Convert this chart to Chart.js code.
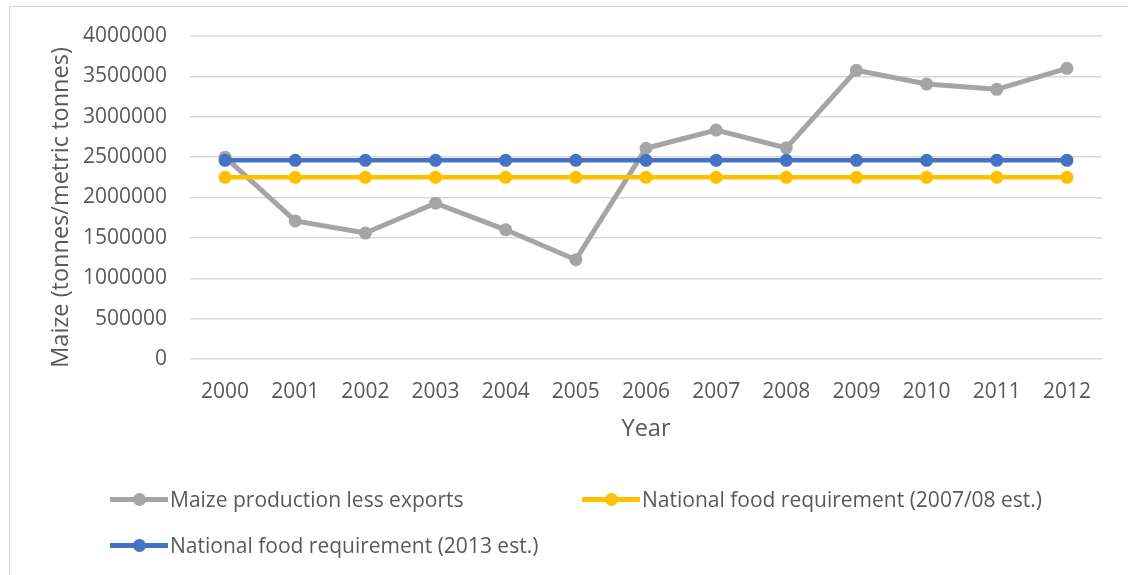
<!DOCTYPE html>
<html>
<head>
<meta charset="utf-8">
<script src="https://cdn.jsdelivr.net/npm/chart.js@4.4.1/dist/chart.umd.min.js"></script>
<style>
  html, body { margin:0; padding:0; background:#fff; }
  #wrap { position:relative; width:1128px; height:575px; overflow:hidden; font-family:"Open Sans", sans-serif; }
  #frame { position:absolute; left:9px; top:6px; width:1400px; height:800px; border:1px solid #d9d9d9; box-sizing:border-box; }
  canvas { position:absolute; left:0; top:0; }
  .lg { position:absolute; display:flex; align-items:center; color:#595959; font-size:21px; white-space:nowrap; }
  .sym { position:relative; width:58px; height:13px; margin-right:2px; }
  .sym .ln { position:absolute; left:0; right:0; top:4px; height:5px; }
  .sym .dt { position:absolute; left:23px; top:0; width:13px; height:13px; border-radius:50%; }
</style>
</head>
<body>
<div id="wrap">
  <div id="frame"></div>
  <canvas id="c" width="1128" height="575"></canvas>
  <div id="legend"></div>
</div>
<script>
const years = ['2000','2001','2002','2003','2004','2005','2006','2007','2008','2009','2010','2011','2012'];
const maizeLessExports = [2500000, 1710000, 1560000, 1930000, 1600000, 1230000, 2610000, 2835000, 2615000, 3575000, 3405000, 3340000, 3600000];
const foodReq2007 = [2250000, 2250000, 2250000, 2250000, 2250000, 2250000, 2250000, 2250000, 2250000, 2250000, 2250000, 2250000, 2250000];
const foodReq2013 = [2460000, 2460000, 2460000, 2460000, 2460000, 2460000, 2460000, 2460000, 2460000, 2460000, 2460000, 2460000, 2460000];
const seriesNames = ['Maize production less exports', 'National food requirement (2007/08 est.)', 'National food requirement (2013 est.)'];
const yTitle = 'Maize (tonnes/metric tonnes)';
const xTitle = 'Year';

const colors = ['#a5a5a5', '#ffc000', '#4472c4'];
const FONT = '"Open Sans", sans-serif';
const TXT = '#595959';

function ds(label, data, color, order, width) {
  return {
    label, data, borderColor: color, backgroundColor: color,
    pointBackgroundColor: color, pointBorderColor: color,
    borderWidth: width, pointRadius: 6.5, pointHoverRadius: 6.5, pointBorderWidth: 0,
    tension: 0, order
  };
}

// y-axis title drawn as canvas text (slightly below axis centre, as in the reference)
const yTitlePlugin = {
  id: 'yTitle',
  afterDraw(chart) {
    const ctx = chart.ctx;
    ctx.save();
    ctx.translate(61, chart.chartArea.top + (chart.chartArea.bottom - chart.chartArea.top) / 2 + 10);
    ctx.rotate(-Math.PI / 2);
    ctx.fillStyle = TXT;
    ctx.font = '23.5px ' + FONT;
    ctx.textAlign = 'center';
    ctx.textBaseline = 'middle';
    ctx.fillText(yTitle, 0, 0);
    ctx.restore();
  }
};

const chart = new Chart(document.getElementById('c'), {
  type: 'line',
  data: {
    labels: years,
    datasets: [
      ds(seriesNames[0], maizeLessExports, colors[0], 2, 5),
      ds(seriesNames[1], foodReq2007, colors[1], 1, 4.5),
      ds(seriesNames[2], foodReq2013, colors[2], 0, 4.5)
    ]
  },
  plugins: [yTitlePlugin],
  options: {
    responsive: false,
    animation: false,
    devicePixelRatio: 1,
    layout: { padding: { top: 36, right: 26, bottom: 116, left: 0 } },
    plugins: { legend: { display: false }, tooltip: { enabled: false } },
    scales: {
      x: {
        offset: true,
        grid: { display: false, drawTicks: false },
        border: { display: false },
        ticks: { color: TXT, font: { family: FONT, size: 21 }, padding: 20, maxRotation: 0, autoSkip: false },
        title: { display: true, text: xTitle, color: TXT, font: { family: FONT, size: 23.5 }, padding: { top: 0, bottom: 16 } },
        afterFit: s => { s.height = 100; }
      },
      y: {
        min: 0, max: 4000000,
        grid: { color: '#d9d9d9', lineWidth: 1.5, drawTicks: false },
        border: { display: false },
        ticks: { stepSize: 500000, color: TXT, font: { family: FONT, size: 21 }, padding: 23, callback: v => String(v) },
        title: { display: false },
        afterFit: s => { s.width = 190; }
      }
    }
  }
});

// HTML legend built from dataset info
const legendPos = [[110, 499], [582, 499], [110, 545]];
const lg = document.getElementById('legend');
chart.data.datasets.forEach((d, i) => {
  const el = document.createElement('div');
  el.className = 'lg';
  el.style.left = legendPos[i][0] + 'px';
  el.style.top = (legendPos[i][1] - 14) + 'px';
  el.style.height = '28px';
  el.innerHTML = '<div class="sym"><div class="ln" style="background:' + d.borderColor + '"></div><div class="dt" style="background:' + d.borderColor + '"></div></div><span></span>';
  el.querySelector('span').textContent = d.label;
  lg.appendChild(el);
});
</script>
</body>
</html>
